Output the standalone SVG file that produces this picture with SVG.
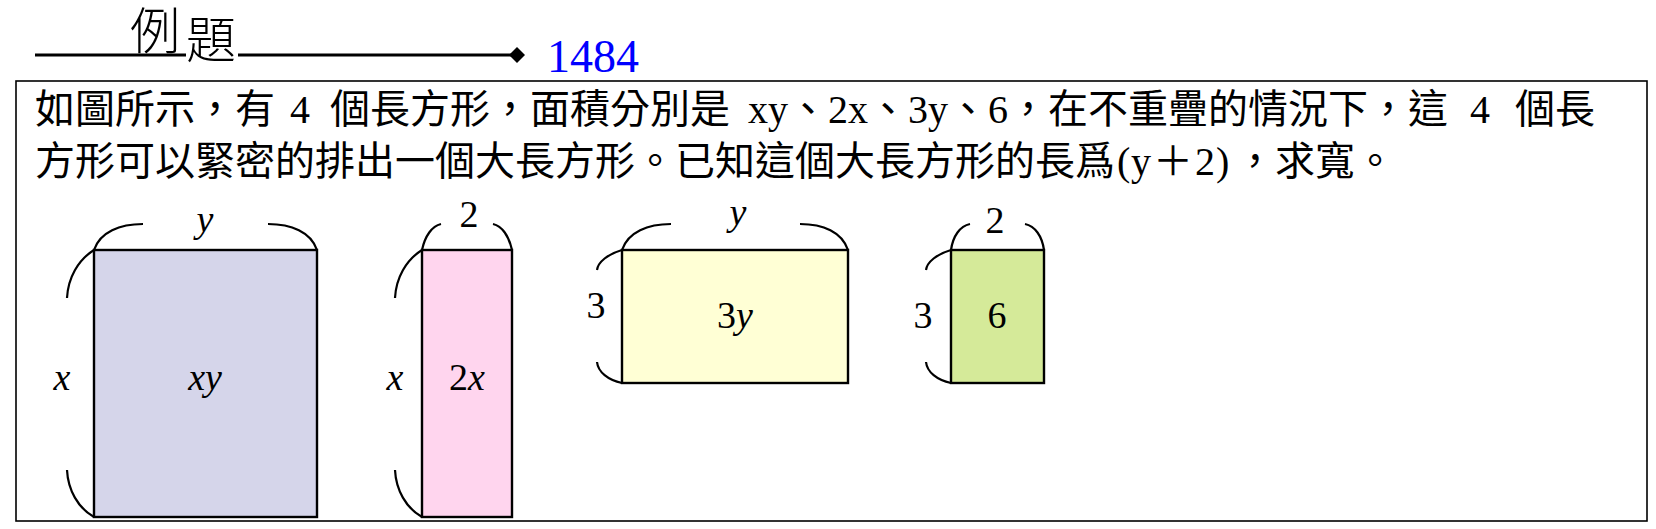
<svg xmlns="http://www.w3.org/2000/svg" width="1656" height="529" viewBox="0 0 1656 529">
<style>
.bg{fill:#ffffff}
.frame{fill:none;stroke:#000;stroke-width:1.6}
.rule{stroke:#000;stroke-width:3}
.cjk{font-family:"Liberation Serif","Noto Sans CJK TC",serif;font-size:40px;fill:#000}
.head{font-family:"Noto Sans CJK TC",sans-serif;font-size:50px;fill:#000;font-weight:300}
.num{font-family:"Liberation Serif",serif;font-size:46px;fill:#0000ff}
.box{stroke:#000;stroke-width:2.4}
.brace{fill:none;stroke:#000;stroke-width:2.2}
.lbl{font-family:"Liberation Serif",serif;font-size:38px;fill:#000;text-anchor:middle}
.it{font-style:italic}
</style>
<rect class="bg" x="0" y="0" width="1656" height="529"/>
<g id="header">
<line class="rule" x1="35" y1="55" x2="186" y2="55"/>
<line class="rule" x1="238" y1="55" x2="517" y2="55"/>
<polygon points="509,55 517,47 525,55 517,63" fill="#000"/>
<text class="head" x="130" y="49">例</text>
<text class="head" x="186" y="58">題</text>
<text class="num" x="547" y="72">1484</text>
</g>
<g id="problem">
<rect class="frame" x="16" y="81" width="1631" height="440"/>
<text class="cjk" y="123"><tspan x="35">如圖所示，有</tspan><tspan x="290">4</tspan><tspan x="330">個長方形，面積分別是</tspan><tspan x="748">xy、2x、3y、6，在不重疊的情況下，這</tspan><tspan x="1470">4</tspan><tspan x="1515">個長</tspan></text>
<text class="cjk" y="175"><tspan x="35">方形可以緊密的排出一個大長方形。已知這個大長方形的長爲</tspan><tspan x="1117">(</tspan><tspan x="1131">y</tspan><tspan x="1153">＋</tspan><tspan x="1195">2</tspan><tspan x="1216">)</tspan><tspan x="1235">，求寬。</tspan></text>
</g>
<g id="rect-xy">
<rect class="box" x="94" y="250" width="223" height="267" fill="#d5d5ea"/>
<path class="brace" d="M94,250 C100,232 120,224 143,224 M268,224 C291,224 311,232 317,250 M94,250 C78,260 68,278 67,298 M67,470 C68,490 78,508 94,517"/>
<text class="lbl it" x="205" y="232">y</text>
<text class="lbl it" x="62" y="390">x</text>
<text class="lbl it" x="205" y="390">xy</text>
</g>
<g id="rect-2x">
<rect class="box" x="422" y="250" width="90" height="267" fill="#ffd5ee"/>
<path class="brace" d="M422,250 C425,236 432,226 441,224 M493,224 C502,226 509,236 512,250 M422,250 C406,260 396,278 395,298 M395,470 C396,490 406,508 422,517"/>
<text class="lbl" x="469" y="227">2</text>
<text class="lbl it" x="395" y="390">x</text>
<text class="lbl" x="467" y="390">2<tspan class="it">x</tspan></text>
</g>
<g id="rect-3y">
<rect class="box" x="622" y="250" width="226" height="133" fill="#ffffd5"/>
<path class="brace" d="M622,250 C628,232 648,224 671,224 M800,224 C823,224 842,232 848,250 M622,250 C608,254 598,262 597,270 M597,362 C598,372 608,380 622,383"/>
<text class="lbl it" x="738" y="225">y</text>
<text class="lbl" x="596" y="318">3</text>
<text class="lbl" x="735" y="328">3<tspan class="it">y</tspan></text>
</g>
<g id="rect-6">
<rect class="box" x="951" y="250" width="93" height="133" fill="#d5ea99"/>
<path class="brace" d="M951,250 C953,236 960,226 970,224 M1025,224 C1035,226 1042,236 1044,250 M951,250 C937,254 927,262 926,270 M926,362 C927,372 937,380 951,383"/>
<text class="lbl" x="995" y="233">2</text>
<text class="lbl" x="923" y="328">3</text>
<text class="lbl" x="997" y="328">6</text>
</g>
<g id="connectors"/>
</svg>
